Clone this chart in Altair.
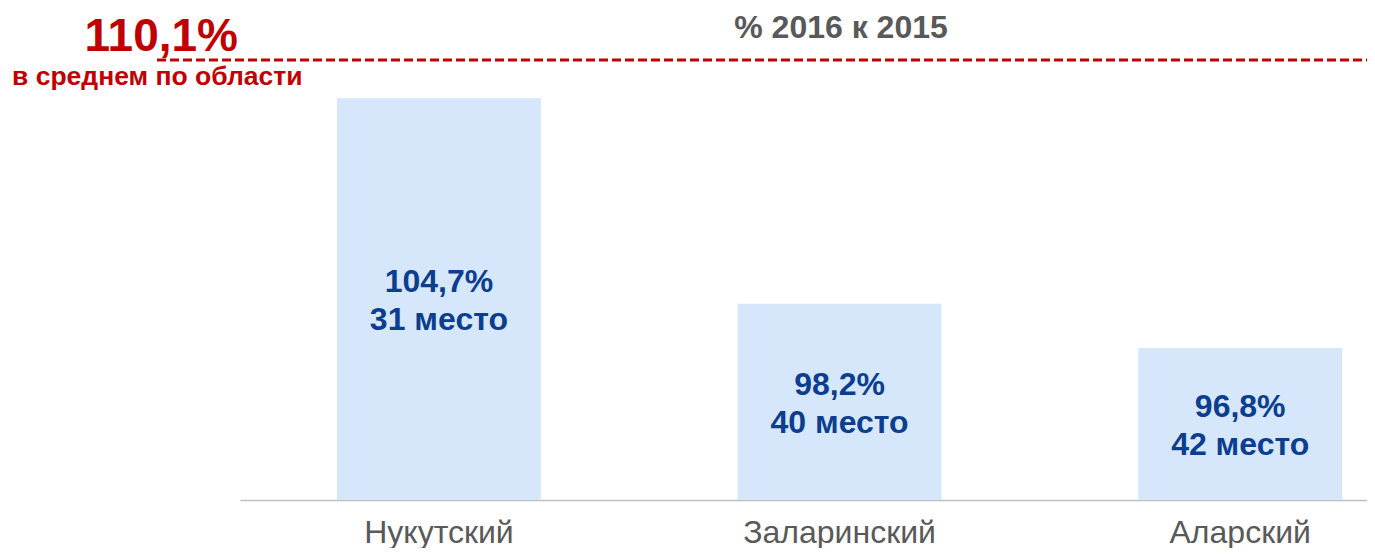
import altair as alt
import pandas as pd

# ---- data ----
districts = ["Нукутский", "Заларинский", "Аларский"]
values = [104.7, 98.2, 96.8]
ranks = [31, 40, 42]
avg_value = 110.1
avg_caption = "в среднем по области"
chart_title = "% 2016 к 2015"
y_min, y_max = 92, 106

FONT = "Liberation Sans"
RED = "#C00000"
BLUE = "#0B3E8F"
GRAY = "#595959"


def fmt(v):
    return f"{v:.1f}".replace(".", ",") + "%"


df = pd.DataFrame({
    "district": districts,
    "value": values,
    "label": [f"{fmt(v)}\n{r} место" for v, r in zip(values, ranks)],
})
avg_df = pd.DataFrame({"avg": [fmt(avg_value)], "caption": [avg_caption], "title": [chart_title]})

xscale = alt.Scale(domain=districts, paddingInner=0.491, paddingOuter=0.152, align=0.796)
yscale = alt.Scale(domain=[y_min, y_max], zero=False, nice=False)

base = alt.Chart(df)

bars = base.mark_bar(color="#D6E7FB").encode(
    x=alt.X("district:N", scale=xscale, sort=districts,
            axis=alt.Axis(title=None, ticks=False, labelAngle=0, labelFontSize=32,
                          labelColor=GRAY, labelFont=FONT, labelPadding=17, labelLimit=0,
                          domainColor="#BFBFBF", domainWidth=1.5, grid=False)),
    y=alt.Y("value:Q", scale=yscale, axis=None),
    y2=alt.datum(y_min),
)

labels = base.transform_calculate(
    mid=f"(datum.value + {y_min}) / 2"
).mark_text(font=FONT, fontSize=32, fontWeight="bold", color=BLUE,
            lineBreak="\n", lineHeight=38, baseline="middle", align="center", dy=-17).encode(
    x=alt.X("district:N", scale=xscale, sort=districts),
    y=alt.Y("mid:Q", scale=yscale),
    text="label:N",
)

avg_line = alt.Chart(avg_df).mark_rule(color=RED, strokeWidth=3, strokeDash=[9, 4]).encode(
    x=alt.value(-83), x2=alt.value(1140), y=alt.value(3)
)

avg_text = alt.Chart(avg_df).mark_text(font=FONT, fontSize=46, fontWeight="bold", color=RED,
                                       align="right", baseline="alphabetic").encode(
    x=alt.value(-2), y=alt.value(-6), text="avg:N"
)

avg_caption_text = alt.Chart(avg_df).mark_text(font=FONT, fontSize=26.5, fontWeight="bold", color=RED,
                                               align="left", baseline="alphabetic").encode(
    x=alt.value(-228), y=alt.value(28), text="caption:N"
)

title_text = alt.Chart(avg_df).mark_text(font=FONT, fontSize=32, fontWeight="bold", color=GRAY,
                                         align="center", baseline="alphabetic").encode(
    x=alt.value(601), y=alt.value(-19), text="title:N"
)

chart = alt.layer(bars, labels, avg_line, avg_text, avg_caption_text, title_text).properties(
    width=1127,
    height=443,
    autosize=alt.AutoSizeParams(type="none"),
    padding={"left": 232, "top": 49, "right": 0, "bottom": 48},
).configure_view(stroke=None)

chart.save("out.html", embed_options={"renderer": "svg", "actions": False})
